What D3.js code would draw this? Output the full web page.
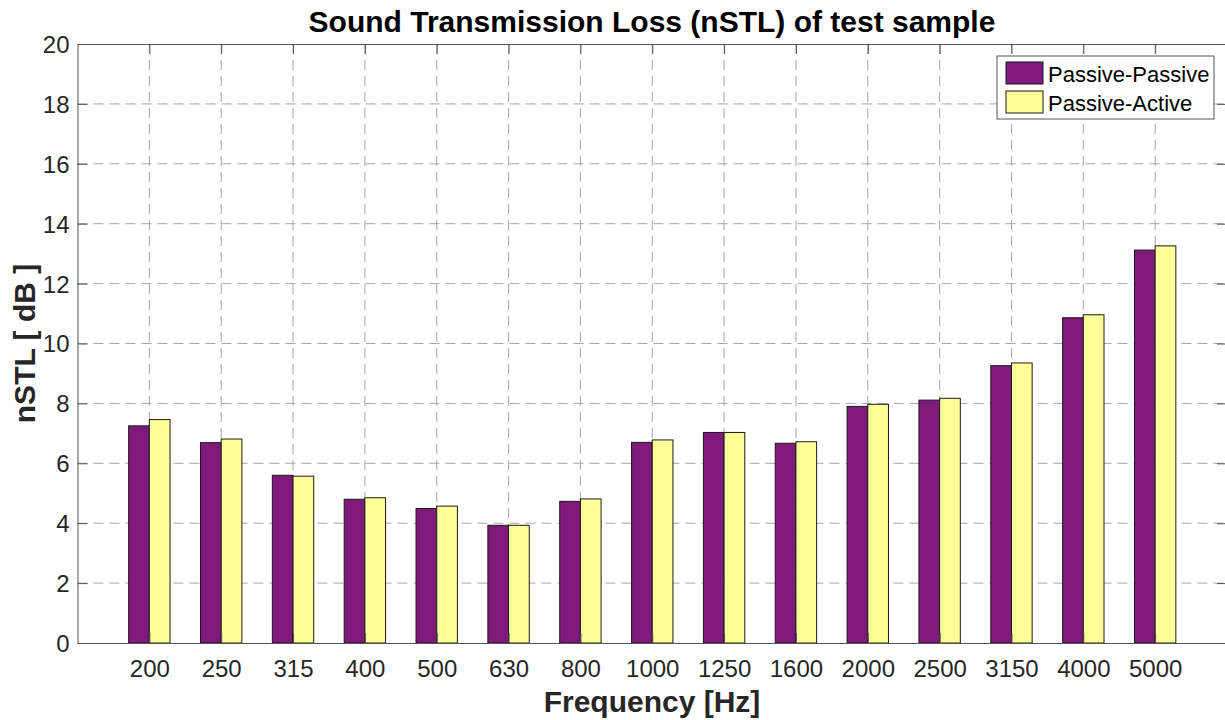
<!DOCTYPE html>
<html><head><meta charset="utf-8">
<script src="https://cdn.jsdelivr.net/npm/d3@7/dist/d3.min.js"></script>
<style>body{margin:0;background:#fff}svg{display:block}text{font-family:"Liberation Sans",Arial,sans-serif}</style>
</head><body><svg id="c" width="1225" height="720"></svg>
<script>
const categories = ["200","250","315","400","500","630","800","1000","1250","1600","2000","2500","3150","4000","5000"];
const passivePassive = [7.25,6.69,5.60,4.80,4.49,3.93,4.73,6.70,7.03,6.67,7.90,8.11,9.26,10.86,13.12];
const passiveActive  = [7.46,6.81,5.57,4.85,4.57,3.93,4.81,6.78,7.03,6.72,7.97,8.17,9.35,10.96,13.26];
const seriesNames = ["Passive-Passive","Passive-Active"];
const seriesColors = ["#7f1a7c","#ffff99"];
const yTicks = [0,2,4,6,8,10,12,14,16,18,20];

const svg = d3.select("#c");
const L=77.5, R=1227, T=44, B=643;
const x = d3.scaleLinear().domain([0,16]).range([L,R]);
const y = d3.scaleLinear().domain([0,20]).range([B,T]);
const axisCol="#262626", lineCol="#555555";
const font="'Liberation Sans',Arial,sans-serif";

// grid
const g = svg.append("g");
g.selectAll(".vg").data(categories).enter().append("line")
 .attr("x1",(d,i)=>x(i+1)).attr("x2",(d,i)=>x(i+1)).attr("y1",T).attr("y2",B)
 .attr("stroke","#a6a6a6").attr("stroke-width",1).attr("stroke-dasharray","10,6");
g.selectAll(".hg").data(yTicks.slice(1,-1)).enter().append("line")
 .attr("x1",L).attr("x2",R).attr("y1",d=>y(d)).attr("y2",d=>y(d))
 .attr("stroke","#a6a6a6").attr("stroke-width",1).attr("stroke-dasharray","10,6");

// bars
const bw = x(1.288)-x(1);
const series=[passivePassive,passiveActive];
series.forEach((vals,si)=>{
  svg.append("g").selectAll("rect").data(vals).enter().append("rect")
   .attr("x",(d,i)=>x(i+1)+(si===0?-bw:0))
   .attr("y",d=>y(d)).attr("width",bw).attr("height",d=>y(0)-y(d))
   .attr("fill",seriesColors[si]).attr("stroke","#1a1a1a").attr("stroke-width",1);
});

// axes
const tl=-10;
const xb = svg.append("g").attr("transform",`translate(0,${B})`)
 .call(d3.axisBottom(x).tickValues(d3.range(1,16)).tickFormat(d=>categories[d-1]).tickSizeInner(tl).tickSizeOuter(0).tickPadding(17));
const xt = svg.append("g").attr("transform",`translate(0,${T})`)
 .call(d3.axisTop(x).tickValues(d3.range(1,16)).tickFormat("").tickSizeInner(tl).tickSizeOuter(0));
const yl = svg.append("g").attr("transform",`translate(${L},0)`)
 .call(d3.axisLeft(y).tickValues(yTicks).tickSizeInner(tl).tickSizeOuter(0).tickPadding(8));
const yr = svg.append("g").attr("transform",`translate(${R},0)`)
 .call(d3.axisRight(y).tickValues(yTicks).tickFormat("").tickSizeInner(tl).tickSizeOuter(0));
[xb,xt,yl,yr].forEach(a=>{
  a.selectAll("path").attr("stroke",lineCol).attr("stroke-width",1);
  a.selectAll("line").attr("stroke",lineCol);
  a.selectAll("text").attr("fill",axisCol).style("font-size","24px").style("font-family",font);
});
yl.selectAll("text").attr("dy","0.35em");

// title & labels
svg.append("text").attr("x",652).attr("y",32).attr("text-anchor","middle")
 .style("font-size","30px").style("font-weight","bold").attr("fill","#000").text("Sound Transmission Loss (nSTL) of test sample");
svg.append("text").attr("x",652).attr("y",712).attr("text-anchor","middle")
 .style("font-size","30px").style("font-weight","bold").attr("fill","#262626").text("Frequency [Hz]");
svg.append("text").attr("transform",`translate(35,${(T+B)/2}) rotate(-90)`).attr("text-anchor","middle")
 .style("font-size","30px").style("font-weight","bold").attr("fill","#262626").text("nSTL [ dB ]");

// legend
const lg = svg.append("g");
lg.append("rect").attr("x",997).attr("y",56).attr("width",217).attr("height",63)
 .attr("fill","#fff").attr("stroke",lineCol).attr("stroke-width",1);
seriesNames.forEach((n,i)=>{
  lg.append("rect").attr("x",1006).attr("y",62+i*29).attr("width",37).attr("height",22)
   .attr("fill",seriesColors[i]).attr("stroke","#1a1a1a").attr("stroke-width",1);
  lg.append("text").attr("x",1048).attr("y",82+i*29).style("font-size","22px").attr("fill","#000").text(n);
});
</script></body></html>
